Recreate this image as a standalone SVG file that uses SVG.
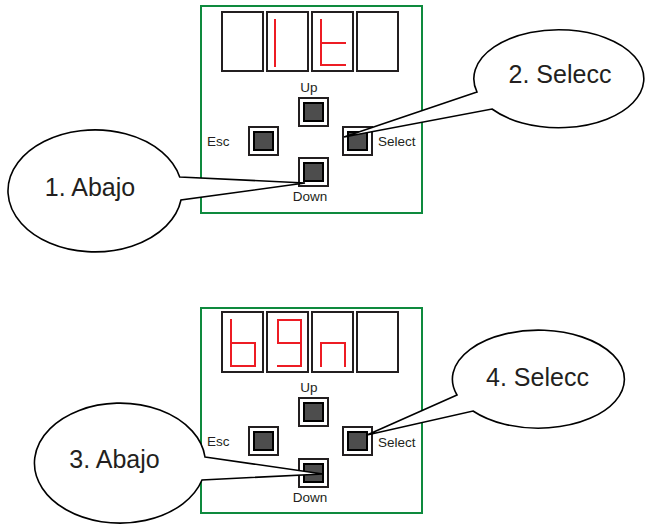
<svg xmlns="http://www.w3.org/2000/svg" width="645" height="527" viewBox="0 0 645 527">
<style>
.panel{fill:#fff;stroke:#0e8a3e;stroke-width:2}
.digit{fill:#fff;stroke:#231f20;stroke-width:2}
.seg{fill:none;stroke:#ed1c24;stroke-width:2;stroke-linecap:square}
.bo{fill:#fff;stroke:#231f20;stroke-width:2}
.bi{fill:#4d4d4d;stroke:#000;stroke-width:2}
.lbl{font-family:"Liberation Sans",Arial,sans-serif;font-size:13.5px;fill:#231f20}
.call{fill:#fff;stroke:#000;stroke-width:1.6;stroke-linejoin:miter}
.ct{font-family:"Liberation Sans",Arial,sans-serif;font-size:25px;fill:#231f20;text-anchor:middle}
</style>
<rect width="645" height="527" fill="#fff"/>
<g id="panel1">
<rect class="panel" x="201" y="6" width="221" height="207"/>
<g id="display1">
<rect class="digit" x="222" y="12" width="41" height="59"/>
<rect class="digit" x="267" y="12" width="41" height="59"/>
<rect class="digit" x="312" y="12" width="41" height="59"/>
<rect class="digit" x="357" y="12" width="41" height="59"/>
<path class="seg" d="M275,20V66"/>
<path class="seg" d="M321,20V65H345M321,43H345"/>
</g>
</g>
<g id="up1"><rect class="bo" x="299" y="98" width="29" height="28"/><rect class="bi" x="304" y="103" width="19" height="18"/><text class="lbl" x="309" y="92" text-anchor="middle">Up</text></g>
<g id="esc1"><rect class="bo" x="249" y="127" width="29" height="28"/><rect class="bi" x="254" y="132" width="19" height="18"/><text class="lbl" x="207" y="146">Esc</text></g>
<g id="select1"><rect class="bo" x="343" y="127" width="29" height="28"/><rect class="bi" x="348" y="132" width="19" height="18"/><text class="lbl" x="378" y="146">Select</text></g>
<g id="down1"><rect class="bo" x="299" y="158" width="29" height="28"/><rect class="bi" x="304" y="163" width="19" height="18"/><text class="lbl" x="310" y="201" text-anchor="middle">Down</text></g>

<g id="panel2">
<rect class="panel" x="201" y="308" width="221" height="205"/>
<g id="display2">
<rect class="digit" x="222" y="312" width="41" height="60"/>
<rect class="digit" x="267" y="312" width="41" height="60"/>
<rect class="digit" x="312" y="312" width="41" height="60"/>
<rect class="digit" x="357" y="312" width="41" height="60"/>
<path class="seg" d="M231,320V366H255V343H231"/>
<path class="seg" d="M278,343V320H301V366H278M278,343H301"/>
<path class="seg" d="M321,366V343H345V366"/>
</g>
</g>
<g id="up2"><rect class="bo" x="299" y="398" width="29" height="28"/><rect class="bi" x="304" y="403" width="19" height="18"/><text class="lbl" x="309" y="392" text-anchor="middle">Up</text></g>
<g id="esc2"><rect class="bo" x="249" y="427" width="29" height="28"/><rect class="bi" x="254" y="432" width="19" height="18"/><text class="lbl" x="207" y="446">Esc</text></g>
<g id="select2"><rect class="bo" x="343" y="427" width="29" height="28"/><rect class="bi" x="348" y="432" width="19" height="18"/><text class="lbl" x="378" y="447">Select</text></g>
<g id="down2"><rect class="bo" x="299" y="459" width="29" height="28"/><rect class="bi" x="304" y="464" width="19" height="18"/><text class="lbl" x="310" y="502" text-anchor="middle">Down</text></g>

<g id="connectors">
<g id="callout1"><path class="call" d="M179.7,177L305,183L181,200A87,61 0 1 1 179.7,177Z"/><text class="ct" x="90" y="196">1. Abajo</text></g>
<g id="callout2"><path class="call" d="M477,92L344,137L492,109A85,49 0 1 0 477,92Z"/><text class="ct" x="560" y="83">2. Selecc</text></g>
<g id="callout3"><path class="call" d="M205,457L323,474L202,480A85.5,60 0 1 1 205,457Z"/><text class="ct" x="114.5" y="468">3. Abajo</text></g>
<g id="callout4"><path class="call" d="M457,395L367,435L473,411A86,49 0 1 0 457,395Z"/><text class="ct" x="537.5" y="386">4. Selecc</text></g>
</g>
</svg>
